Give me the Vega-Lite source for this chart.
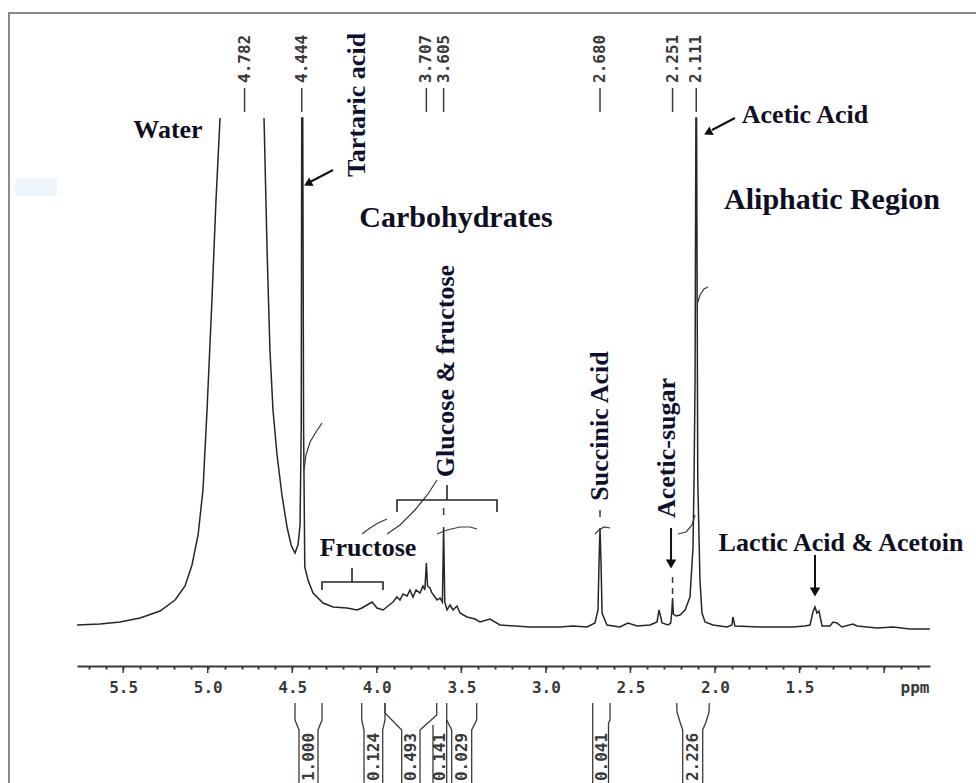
{
  "$schema": "https://vega.github.io/schema/vega-lite/v6.json",
  "width": 853,
  "height": 653,
  "autosize": {"type": "none"},
  "padding": {"left": 77, "top": 13, "right": 46, "bottom": 117},
  "background": "white",
  "config": {"view": {"stroke": null}},
  "datasets": {
    "frame": [{"ppm": 6.175, "ppm2": 0.2, "I": 123, "I2": -40}],
    "smudge": [{"ppm": 6.14, "ppm2": 5.891, "I": 90, "I2": 86.4}],
    "major": [
      {"ppm": 1.0, "I1": -7.6, "I2": -9.0}, {"ppm": 1.5, "I1": -7.6, "I2": -9.0}, {"ppm": 2.0, "I1": -7.6, "I2": -9.0},
      {"ppm": 2.5, "I1": -7.6, "I2": -9.0}, {"ppm": 3.0, "I1": -7.6, "I2": -9.0}, {"ppm": 3.5, "I1": -7.6, "I2": -9.0},
      {"ppm": 4.0, "I1": -7.6, "I2": -9.0}, {"ppm": 4.5, "I1": -7.6, "I2": -9.0}, {"ppm": 5.0, "I1": -7.6, "I2": -9.0},
      {"ppm": 5.5, "I1": -7.6, "I2": -9.0}
    ],
    "spec": [
      {"seg": 1, "k": 1, "ppm": 5.773, "I": 0.6},
      {"seg": 1, "k": 2, "ppm": 5.637, "I": 0.8},
      {"seg": 1, "k": 3, "ppm": 5.519, "I": 1.2},
      {"seg": 1, "k": 4, "ppm": 5.4, "I": 2},
      {"seg": 1, "k": 5, "ppm": 5.282, "I": 3.4},
      {"seg": 1, "k": 6, "ppm": 5.193, "I": 5.6},
      {"seg": 1, "k": 7, "ppm": 5.134, "I": 8.4},
      {"seg": 1, "k": 8, "ppm": 5.093, "I": 12.6},
      {"seg": 1, "k": 9, "ppm": 5.057, "I": 18.6},
      {"seg": 1, "k": 10, "ppm": 5.028, "I": 27.6},
      {"seg": 1, "k": 11, "ppm": 5.004, "I": 43.6},
      {"seg": 1, "k": 12, "ppm": 4.975, "I": 65.6},
      {"seg": 1, "k": 13, "ppm": 4.951, "I": 85.6},
      {"seg": 1, "k": 14, "ppm": 4.927, "I": 102},
      {"seg": 2, "k": 1, "ppm": 4.667, "I": 102},
      {"seg": 2, "k": 2, "ppm": 4.649, "I": 75.6},
      {"seg": 2, "k": 3, "ppm": 4.632, "I": 55.6},
      {"seg": 2, "k": 4, "ppm": 4.614, "I": 43.6},
      {"seg": 2, "k": 5, "ppm": 4.59, "I": 34.6},
      {"seg": 2, "k": 6, "ppm": 4.561, "I": 26.6},
      {"seg": 2, "k": 7, "ppm": 4.531, "I": 20.2},
      {"seg": 2, "k": 8, "ppm": 4.507, "I": 16.6},
      {"seg": 2, "k": 9, "ppm": 4.484, "I": 15},
      {"seg": 2, "k": 10, "ppm": 4.466, "I": 16.6},
      {"seg": 2, "k": 11, "ppm": 4.454, "I": 20.6},
      {"seg": 2, "k": 12, "ppm": 4.447, "I": 40},
      {"seg": 2, "k": 13, "ppm": 4.444, "I": 102},
      {"seg": 2, "k": 14, "ppm": 4.438, "I": 102},
      {"seg": 2, "k": 15, "ppm": 4.433, "I": 40},
      {"seg": 2, "k": 16, "ppm": 4.426, "I": 12.2},
      {"seg": 2, "k": 17, "ppm": 4.407, "I": 9.6},
      {"seg": 2, "k": 18, "ppm": 4.377, "I": 7},
      {"seg": 2, "k": 19, "ppm": 4.318, "I": 5},
      {"seg": 2, "k": 20, "ppm": 4.259, "I": 4.2},
      {"seg": 2, "k": 21, "ppm": 4.176, "I": 4},
      {"seg": 2, "k": 22, "ppm": 4.117, "I": 3.6},
      {"seg": 2, "k": 23, "ppm": 4.088, "I": 4},
      {"seg": 2, "k": 24, "ppm": 4.058, "I": 4.6},
      {"seg": 2, "k": 25, "ppm": 4.028, "I": 5.2},
      {"seg": 2, "k": 26, "ppm": 3.999, "I": 4},
      {"seg": 2, "k": 27, "ppm": 3.963, "I": 3.6},
      {"seg": 2, "k": 28, "ppm": 3.934, "I": 4.4},
      {"seg": 2, "k": 29, "ppm": 3.904, "I": 5.2},
      {"seg": 2, "k": 30, "ppm": 3.881, "I": 6.2},
      {"seg": 2, "k": 31, "ppm": 3.863, "I": 5.6},
      {"seg": 2, "k": 32, "ppm": 3.845, "I": 6.8},
      {"seg": 2, "k": 33, "ppm": 3.821, "I": 6.4},
      {"seg": 2, "k": 34, "ppm": 3.804, "I": 7.6},
      {"seg": 2, "k": 35, "ppm": 3.786, "I": 6.2},
      {"seg": 2, "k": 36, "ppm": 3.768, "I": 7.6},
      {"seg": 2, "k": 37, "ppm": 3.745, "I": 7},
      {"seg": 2, "k": 38, "ppm": 3.727, "I": 8.4},
      {"seg": 2, "k": 39, "ppm": 3.716, "I": 7.6},
      {"seg": 2, "k": 40, "ppm": 3.707, "I": 13},
      {"seg": 2, "k": 41, "ppm": 3.7, "I": 8.4},
      {"seg": 2, "k": 42, "ppm": 3.686, "I": 8},
      {"seg": 2, "k": 43, "ppm": 3.674, "I": 7},
      {"seg": 2, "k": 44, "ppm": 3.656, "I": 6.2},
      {"seg": 2, "k": 45, "ppm": 3.644, "I": 5.6},
      {"seg": 2, "k": 46, "ppm": 3.626, "I": 6},
      {"seg": 2, "k": 47, "ppm": 3.612, "I": 5.2},
      {"seg": 2, "k": 48, "ppm": 3.605, "I": 20.2},
      {"seg": 2, "k": 49, "ppm": 3.598, "I": 5.2},
      {"seg": 2, "k": 50, "ppm": 3.585, "I": 3.6},
      {"seg": 2, "k": 51, "ppm": 3.567, "I": 4.6},
      {"seg": 2, "k": 52, "ppm": 3.549, "I": 3.6},
      {"seg": 2, "k": 53, "ppm": 3.526, "I": 4.4},
      {"seg": 2, "k": 54, "ppm": 3.508, "I": 3},
      {"seg": 2, "k": 55, "ppm": 3.467, "I": 2.2},
      {"seg": 2, "k": 56, "ppm": 3.419, "I": 1.8},
      {"seg": 2, "k": 57, "ppm": 3.39, "I": 1.2},
      {"seg": 2, "k": 58, "ppm": 3.331, "I": 1.8},
      {"seg": 2, "k": 59, "ppm": 3.271, "I": 0.6},
      {"seg": 2, "k": 60, "ppm": 3.183, "I": 0.4},
      {"seg": 2, "k": 61, "ppm": 3.094, "I": 0.2},
      {"seg": 2, "k": 62, "ppm": 3.005, "I": 0.2},
      {"seg": 2, "k": 63, "ppm": 2.917, "I": 0.2},
      {"seg": 2, "k": 64, "ppm": 2.84, "I": 0.4},
      {"seg": 2, "k": 65, "ppm": 2.757, "I": 0.2},
      {"seg": 2, "k": 66, "ppm": 2.71, "I": 1},
      {"seg": 2, "k": 67, "ppm": 2.692, "I": 3.6},
      {"seg": 2, "k": 68, "ppm": 2.686, "I": 13},
      {"seg": 2, "k": 69, "ppm": 2.68, "I": 20},
      {"seg": 2, "k": 70, "ppm": 2.674, "I": 13},
      {"seg": 2, "k": 71, "ppm": 2.668, "I": 3},
      {"seg": 2, "k": 72, "ppm": 2.639, "I": 0.6},
      {"seg": 2, "k": 73, "ppm": 2.562, "I": 0.2},
      {"seg": 2, "k": 74, "ppm": 2.515, "I": 1},
      {"seg": 2, "k": 75, "ppm": 2.461, "I": 0.4},
      {"seg": 2, "k": 76, "ppm": 2.384, "I": 0.6},
      {"seg": 2, "k": 77, "ppm": 2.343, "I": 1.2},
      {"seg": 2, "k": 78, "ppm": 2.331, "I": 3.6},
      {"seg": 2, "k": 79, "ppm": 2.313, "I": 1},
      {"seg": 2, "k": 80, "ppm": 2.278, "I": 0.6},
      {"seg": 2, "k": 81, "ppm": 2.262, "I": 1},
      {"seg": 2, "k": 82, "ppm": 2.256, "I": 3},
      {"seg": 2, "k": 83, "ppm": 2.251, "I": 6},
      {"seg": 2, "k": 84, "ppm": 2.246, "I": 2.8},
      {"seg": 2, "k": 85, "ppm": 2.23, "I": 2.4},
      {"seg": 2, "k": 86, "ppm": 2.207, "I": 2.6},
      {"seg": 2, "k": 87, "ppm": 2.177, "I": 3.6},
      {"seg": 2, "k": 88, "ppm": 2.148, "I": 6.2},
      {"seg": 2, "k": 89, "ppm": 2.13, "I": 16.2},
      {"seg": 2, "k": 90, "ppm": 2.124, "I": 29.6},
      {"seg": 2, "k": 91, "ppm": 2.118, "I": 49.6},
      {"seg": 2, "k": 92, "ppm": 2.113, "I": 102},
      {"seg": 2, "k": 93, "ppm": 2.109, "I": 102},
      {"seg": 2, "k": 94, "ppm": 2.102, "I": 29.6},
      {"seg": 2, "k": 95, "ppm": 2.089, "I": 9.6},
      {"seg": 2, "k": 96, "ppm": 2.077, "I": 3},
      {"seg": 2, "k": 97, "ppm": 2.059, "I": 1.2},
      {"seg": 2, "k": 98, "ppm": 2.012, "I": 0.6},
      {"seg": 2, "k": 99, "ppm": 1.929, "I": 0.2},
      {"seg": 2, "k": 100, "ppm": 1.9, "I": 0.6},
      {"seg": 2, "k": 101, "ppm": 1.894, "I": 2.2},
      {"seg": 2, "k": 102, "ppm": 1.882, "I": 0.4},
      {"seg": 2, "k": 103, "ppm": 1.734, "I": 0.2},
      {"seg": 2, "k": 104, "ppm": 1.539, "I": 0.2},
      {"seg": 2, "k": 105, "ppm": 1.468, "I": 0.4},
      {"seg": 2, "k": 106, "ppm": 1.438, "I": 0.6},
      {"seg": 2, "k": 107, "ppm": 1.421, "I": 3.2},
      {"seg": 2, "k": 108, "ppm": 1.409, "I": 4.2},
      {"seg": 2, "k": 109, "ppm": 1.397, "I": 3},
      {"seg": 2, "k": 110, "ppm": 1.385, "I": 3.4},
      {"seg": 2, "k": 111, "ppm": 1.367, "I": 0.4},
      {"seg": 2, "k": 112, "ppm": 1.32, "I": 0.4},
      {"seg": 2, "k": 113, "ppm": 1.302, "I": 1.2},
      {"seg": 2, "k": 114, "ppm": 1.279, "I": 1},
      {"seg": 2, "k": 115, "ppm": 1.249, "I": 0.2},
      {"seg": 2, "k": 116, "ppm": 1.184, "I": 0.8},
      {"seg": 2, "k": 117, "ppm": 1.16, "I": 0.4},
      {"seg": 2, "k": 118, "ppm": 1.042, "I": 0},
      {"seg": 2, "k": 119, "ppm": 0.947, "I": 0.2},
      {"seg": 2, "k": 120, "ppm": 0.847, "I": -0.2},
      {"seg": 2, "k": 121, "ppm": 0.729, "I": -0.2}
    ],
    "integ": [
      {"id": "A", "k": 1, "ppm": 4.4305, "I": 31.6},
      {"id": "A", "k": 2, "ppm": 4.4187, "I": 34.6},
      {"id": "A", "k": 3, "ppm": 4.395, "I": 37.2},
      {"id": "A", "k": 4, "ppm": 4.3596, "I": 39.2},
      {"id": "A", "k": 5, "ppm": 4.3241, "I": 41},
      {"id": "B", "k": 1, "ppm": 4.0875, "I": 18.8},
      {"id": "B", "k": 2, "ppm": 4.0402, "I": 20},
      {"id": "B", "k": 3, "ppm": 3.9929, "I": 21},
      {"id": "B", "k": 4, "ppm": 3.9397, "I": 21.8},
      {"id": "C", "k": 1, "ppm": 3.9397, "I": 18.8},
      {"id": "C", "k": 2, "ppm": 3.8628, "I": 20.6},
      {"id": "C", "k": 3, "ppm": 3.7741, "I": 23.6},
      {"id": "C", "k": 4, "ppm": 3.6972, "I": 26.8},
      {"id": "C", "k": 5, "ppm": 3.644, "I": 29.6},
      {"id": "D", "k": 1, "ppm": 3.644, "I": 18.8},
      {"id": "D", "k": 2, "ppm": 3.5849, "I": 19.6},
      {"id": "D", "k": 3, "ppm": 3.508, "I": 20.2},
      {"id": "D", "k": 4, "ppm": 3.4489, "I": 20.2},
      {"id": "D", "k": 5, "ppm": 3.4075, "I": 19.8},
      {"id": "E", "k": 1, "ppm": 2.7096, "I": 18.8},
      {"id": "E", "k": 2, "ppm": 2.686, "I": 19.6},
      {"id": "E", "k": 3, "ppm": 2.6564, "I": 20.2},
      {"id": "E", "k": 4, "ppm": 2.6209, "I": 20},
      {"id": "F", "k": 1, "ppm": 2.2188, "I": 18.8},
      {"id": "F", "k": 2, "ppm": 2.1715, "I": 19.2},
      {"id": "F", "k": 3, "ppm": 2.136, "I": 20.6},
      {"id": "F", "k": 4, "ppm": 2.1183, "I": 22.6},
      {"id": "G", "k": 1, "ppm": 2.1065, "I": 64.6},
      {"id": "G", "k": 2, "ppm": 2.0887, "I": 66.6},
      {"id": "G", "k": 3, "ppm": 2.0651, "I": 67.8},
      {"id": "G", "k": 4, "ppm": 2.0414, "I": 68.2}
    ],
    "dash": [
      {"ppm": 2.68, "I1": 23.6, "I2": 22.2},
      {"ppm": 3.605, "I1": 24, "I2": 22.6},
      {"ppm": 2.251, "I1": 10.2, "I2": 9},
      {"ppm": 2.251, "I1": 8, "I2": 6.8}
    ],
    "brk": [
      {"id": "f", "k": 1, "ppm": 4.3241, "I": 7.6},
      {"id": "f", "k": 2, "ppm": 4.3241, "I": 9.2},
      {"id": "f", "k": 3, "ppm": 3.9634, "I": 9.2},
      {"id": "f", "k": 4, "ppm": 3.9634, "I": 7.6},
      {"id": "fc", "k": 1, "ppm": 4.1467, "I": 9.2},
      {"id": "fc", "k": 2, "ppm": 4.1467, "I": 12},
      {"id": "g", "k": 1, "ppm": 3.8806, "I": 23.2},
      {"id": "g", "k": 2, "ppm": 3.8806, "I": 25.6},
      {"id": "g", "k": 3, "ppm": 3.2892, "I": 25.6},
      {"id": "g", "k": 4, "ppm": 3.2892, "I": 23.2},
      {"id": "gc", "k": 1, "ppm": 3.5849, "I": 25.6},
      {"id": "gc", "k": 2, "ppm": 3.5849, "I": 28.6}
    ],
    "ibr": [
      {"id": "a1", "k": 1, "ppm": 4.4838, "I": -15},
      {"id": "a1", "k": 2, "ppm": 4.4838, "I": -18.4},
      {"id": "a1", "k": 3, "ppm": 4.4601, "I": -20.4},
      {"id": "a1", "k": 4, "ppm": 4.4601, "I": -32.4},
      {"id": "a2", "k": 1, "ppm": 4.3241, "I": -15},
      {"id": "a2", "k": 2, "ppm": 4.3241, "I": -18.4},
      {"id": "a2", "k": 3, "ppm": 4.3478, "I": -20.4},
      {"id": "a2", "k": 4, "ppm": 4.3478, "I": -32.4},
      {"id": "b1", "k": 1, "ppm": 4.0893, "I": -15},
      {"id": "b1", "k": 2, "ppm": 4.0893, "I": -18.4},
      {"id": "b1", "k": 3, "ppm": 4.0757, "I": -20.4},
      {"id": "b1", "k": 4, "ppm": 4.0757, "I": -32.4},
      {"id": "b2", "k": 1, "ppm": 3.9515, "I": -15},
      {"id": "b2", "k": 2, "ppm": 3.9515, "I": -18.4},
      {"id": "b2", "k": 3, "ppm": 3.9651, "I": -20.4},
      {"id": "b2", "k": 4, "ppm": 3.9651, "I": -32.4},
      {"id": "c1", "k": 1, "ppm": 3.9515, "I": -15},
      {"id": "c1", "k": 2, "ppm": 3.9515, "I": -17},
      {"id": "c1", "k": 3, "ppm": 3.8528, "I": -20.4},
      {"id": "c1", "k": 4, "ppm": 3.8528, "I": -32.4},
      {"id": "c2", "k": 1, "ppm": 3.6458, "I": -15},
      {"id": "c2", "k": 2, "ppm": 3.6458, "I": -17.4},
      {"id": "c2", "k": 3, "ppm": 3.7445, "I": -20.4},
      {"id": "c2", "k": 4, "ppm": 3.7445, "I": -32.4},
      {"id": "d1", "k": 1, "ppm": 3.6677, "I": -19.4},
      {"id": "d1", "k": 2, "ppm": 3.6677, "I": -32.4},
      {"id": "e1", "k": 1, "ppm": 3.5867, "I": -15},
      {"id": "e1", "k": 2, "ppm": 3.5867, "I": -32.4},
      {"id": "e2", "k": 1, "ppm": 3.5867, "I": -18.4},
      {"id": "e2", "k": 2, "ppm": 3.5571, "I": -20.4},
      {"id": "e2", "k": 3, "ppm": 3.5571, "I": -32.4},
      {"id": "e3", "k": 1, "ppm": 3.4092, "I": -15},
      {"id": "e3", "k": 2, "ppm": 3.4092, "I": -18.4},
      {"id": "e3", "k": 3, "ppm": 3.4389, "I": -20.4},
      {"id": "e3", "k": 4, "ppm": 3.4389, "I": -32.4},
      {"id": "f1", "k": 1, "ppm": 2.7232, "I": -15},
      {"id": "f1", "k": 2, "ppm": 2.7232, "I": -32.4},
      {"id": "f2", "k": 1, "ppm": 2.6209, "I": -15},
      {"id": "f2", "k": 2, "ppm": 2.6209, "I": -18.4},
      {"id": "f2", "k": 3, "ppm": 2.6298, "I": -19},
      {"id": "f2", "k": 4, "ppm": 2.6298, "I": -32.4},
      {"id": "g1", "k": 1, "ppm": 2.2265, "I": -15},
      {"id": "g1", "k": 2, "ppm": 2.2247, "I": -16.8},
      {"id": "g1", "k": 3, "ppm": 2.207, "I": -18.8},
      {"id": "g1", "k": 4, "ppm": 2.191, "I": -20.4},
      {"id": "g1", "k": 5, "ppm": 2.191, "I": -32.4},
      {"id": "g2", "k": 1, "ppm": 2.0337, "I": -15},
      {"id": "g2", "k": 2, "ppm": 2.0355, "I": -16.8},
      {"id": "g2", "k": 3, "ppm": 2.0532, "I": -18.8},
      {"id": "g2", "k": 4, "ppm": 2.0727, "I": -20.4},
      {"id": "g2", "k": 5, "ppm": 2.0727, "I": -32.4}
    ],
    "ilab": [
      {"txt": "1.000", "ppm": 4.4039, "I": -25.8},
      {"txt": "0.124", "ppm": 4.0195, "I": -25.8},
      {"txt": "0.493", "ppm": 3.7978, "I": -25.8},
      {"txt": "0.141", "ppm": 3.6263, "I": -25.8},
      {"txt": "0.029", "ppm": 3.4961, "I": -25.8},
      {"txt": "0.041", "ppm": 2.6712, "I": -25.8},
      {"txt": "2.226", "ppm": 2.1301, "I": -25.8}
    ],
    "pk": [
      {"txt": "4.782", "ppm": 4.782, "I1": 108, "I2": 103.2, "It": 109},
      {"txt": "4.444", "ppm": 4.444, "I1": 108, "I2": 103.2, "It": 109},
      {"txt": "3.707", "ppm": 3.707, "I1": 108, "I2": 103.2, "It": 109},
      {"txt": "3.605", "ppm": 3.605, "I1": 108, "I2": 103.2, "It": 109},
      {"txt": "2.680", "ppm": 2.68, "I1": 108, "I2": 103.2, "It": 109},
      {"txt": "2.251", "ppm": 2.251, "I1": 108, "I2": 103.2, "It": 109},
      {"txt": "2.111", "ppm": 2.111, "I1": 108, "I2": 103.2, "It": 109}
    ],
    "arr": [
      {"id": "t", "k": 1, "ppm": 4.259, "I": 91.6},
      {"id": "t", "k": 2, "ppm": 4.395, "I": 89.2},
      {"id": "a", "k": 1, "ppm": 1.882, "I": 102},
      {"id": "a", "k": 2, "ppm": 2.018, "I": 99.6},
      {"id": "s", "k": 1, "ppm": 2.26, "I": 20},
      {"id": "s", "k": 2, "ppm": 2.26, "I": 13.6},
      {"id": "l", "k": 1, "ppm": 1.4086, "I": 14.6},
      {"id": "l", "k": 2, "ppm": 1.4086, "I": 7.6}
    ],
    "headDiag": [
      {"ppm": 4.401, "I": 89},
      {"ppm": 2.035, "I": 99.2}
    ],
    "headDown": [
      {"ppm": 2.26, "I": 12.8},
      {"ppm": 1.4086, "I": 7.2}
    ],
    "labH": [
      {"txt": "Water", "ppm": 5.235, "I": 99.6},
      {"txt": "Fructose", "ppm": 4.052, "I": 16},
      {"txt": "Acetic Acid", "ppm": 1.468, "I": 102.6},
      {"txt": "Lactic Acid & Acetoin", "ppm": 1.255, "I": 17}
    ],
    "labBig": [
      {"txt": "Carbohydrates", "ppm": 3.532, "I": 82},
      {"txt": "Aliphatic Region", "ppm": 1.308, "I": 85.6}
    ],
    "labV": [
      {"txt": "Tartaric acid", "ppm": 4.117, "I": 104.6},
      {"txt": "Glucose & fructose", "ppm": 3.591, "I": 51.4},
      {"txt": "Succinic Acid", "ppm": 2.68, "I": 40.4},
      {"txt": "Acetic-sugar", "ppm": 2.284, "I": 36}
    ],
    "unit": [{"txt": "ppm", "ppm": 0.817, "I": -12}]
  },
  "encoding": {
    "x": {"field": "ppm", "type": "quantitative",
      "scale": {"domain": [0.7286, 5.773], "reverse": true, "nice": false, "zero": false},
      "axis": {
        "title": null,
        "values": [0.8,0.9,1.0,1.1,1.2,1.3,1.4,1.5,1.6,1.7,1.8,1.9,2.0,2.1,2.2,2.3,2.4,2.5,2.6,2.7,2.8,2.9,3.0,3.1,3.2,3.3,3.4,3.5,3.6,3.7,3.8,3.9,4.0,4.1,4.2,4.3,4.4,4.5,4.6,4.7,4.8,4.9,5.0,5.1,5.2,5.3,5.4,5.5,5.6,5.7],
        "grid": false,
        "domainColor": "#3a3a3a",
        "domainWidth": 2,
        "tickColor": "#3a3a3a",
        "tickWidth": 2,
        "tickSize": 3,
        "labelExpr": "(abs(datum.value*2 - round(datum.value*2)) < 0.001 && abs(datum.value - 1) > 0.01) ? format(datum.value, '.1f') : ''",
        "labelOverlap": false,
        "labelFlush": false,
        "labelFont": "DejaVu Sans Mono",
        "labelFontSize": 16,
        "labelFontWeight": "bold",
        "labelColor": "#3a3a3a",
        "labelPadding": 10
      }},
    "y": {"field": "I", "type": "quantitative", "scale": {"domain": [-7.6, 123], "nice": false, "zero": false}, "axis": null}
  },
  "layer": [
    {
      "data": {"name": "spec"},
      "mark": {"type": "line", "color": "#262626", "strokeWidth": 1.5, "clip": false},
      "encoding": {
        "detail": {"field": "seg"},
        "order": {"field": "k", "type": "quantitative"}
      }
    },
    {
      "data": {"name": "major"},
      "mark": {"type": "rule", "color": "#3a3a3a", "strokeWidth": 1.5, "clip": false},
      "encoding": {
        "y": {"field": "I1", "type": "quantitative", "axis": null},
        "y2": {"field": "I2"}
      }
    },
    {
      "data": {"name": "frame"},
      "mark": {"type": "rect", "fill": null, "stroke": "#8a8a8a", "strokeWidth": 2, "clip": false},
      "encoding": {
        "x2": {"field": "ppm2"},
        "y2": {"field": "I2"}
      }
    },
    {
      "data": {"name": "smudge"},
      "mark": {"type": "rect", "fill": "#eef5fb", "clip": false},
      "encoding": {
        "x2": {"field": "ppm2"},
        "y2": {"field": "I2"}
      }
    },
    {
      "data": {"name": "integ"},
      "mark": {"type": "line", "color": "#3a3a3a", "strokeWidth": 1.2, "clip": false},
      "encoding": {
        "detail": {"field": "id"},
        "order": {"field": "k", "type": "quantitative"}
      }
    },
    {
      "data": {"name": "dash"},
      "mark": {"type": "rule", "color": "#3a3a3a", "strokeWidth": 1.5, "clip": false},
      "encoding": {
        "y": {"field": "I1", "type": "quantitative", "axis": null},
        "y2": {"field": "I2"}
      }
    },
    {
      "data": {"name": "brk"},
      "mark": {"type": "line", "color": "#262626", "strokeWidth": 1.6, "clip": false},
      "encoding": {
        "detail": {"field": "id"},
        "order": {"field": "k", "type": "quantitative"}
      }
    },
    {
      "data": {"name": "ibr"},
      "mark": {"type": "line", "color": "#3a3a3a", "strokeWidth": 1.3, "clip": false},
      "encoding": {
        "detail": {"field": "id"},
        "order": {"field": "k", "type": "quantitative"}
      }
    },
    {
      "data": {"name": "ilab"},
      "mark": {"type": "text", "font": "DejaVu Sans Mono", "fontSize": 16, "fontWeight": "bold", "color": "#3a3a3a", "angle": 270, "align": "center", "baseline": "middle", "clip": false},
      "encoding": {
        "text": {"field": "txt"}
      }
    },
    {
      "data": {"name": "pk"},
      "mark": {"type": "rule", "color": "#3a3a3a", "strokeWidth": 1.5, "clip": false},
      "encoding": {
        "y": {"field": "I1", "type": "quantitative", "axis": null},
        "y2": {"field": "I2"}
      }
    },
    {
      "data": {"name": "pk"},
      "mark": {"type": "text", "font": "DejaVu Sans Mono", "fontSize": 16, "fontWeight": "bold", "color": "#3a3a3a", "angle": 270, "align": "left", "baseline": "middle", "clip": false},
      "encoding": {
        "y": {"field": "It", "type": "quantitative", "axis": null},
        "text": {"field": "txt"}
      }
    },
    {
      "data": {"name": "arr"},
      "mark": {"type": "line", "color": "#111111", "strokeWidth": 2, "clip": false},
      "encoding": {
        "detail": {"field": "id"},
        "order": {"field": "k", "type": "quantitative"}
      }
    },
    {
      "data": {"name": "headDiag"},
      "mark": {"type": "point", "shape": "triangle", "filled": true, "color": "#111111", "size": 90, "angle": 243, "opacity": 1, "clip": false},
      "encoding": {}
    },
    {
      "data": {"name": "headDown"},
      "mark": {"type": "point", "shape": "triangle-down", "filled": true, "color": "#111111", "size": 110, "opacity": 1, "clip": false},
      "encoding": {}
    },
    {
      "data": {"name": "labH"},
      "mark": {"type": "text", "font": "Liberation Serif", "fontSize": 26, "fontWeight": "bold", "color": "#0f0f24", "align": "center", "baseline": "middle", "clip": false},
      "encoding": {
        "text": {"field": "txt"}
      }
    },
    {
      "data": {"name": "labBig"},
      "mark": {"type": "text", "font": "Liberation Serif", "fontSize": 30, "fontWeight": "bold", "color": "#0f0f24", "align": "center", "baseline": "middle", "clip": false},
      "encoding": {
        "text": {"field": "txt"}
      }
    },
    {
      "data": {"name": "labV"},
      "mark": {"type": "text", "font": "Liberation Serif", "fontSize": 26, "fontWeight": "bold", "color": "#0f0f30", "angle": 270, "align": "center", "baseline": "middle", "clip": false},
      "encoding": {
        "text": {"field": "txt"}
      }
    },
    {
      "data": {"name": "unit"},
      "mark": {"type": "text", "font": "DejaVu Sans Mono", "fontSize": 16, "fontWeight": "bold", "color": "#3a3a3a", "align": "center", "baseline": "middle", "clip": false},
      "encoding": {
        "text": {"field": "txt"}
      }
    }
  ]
}
